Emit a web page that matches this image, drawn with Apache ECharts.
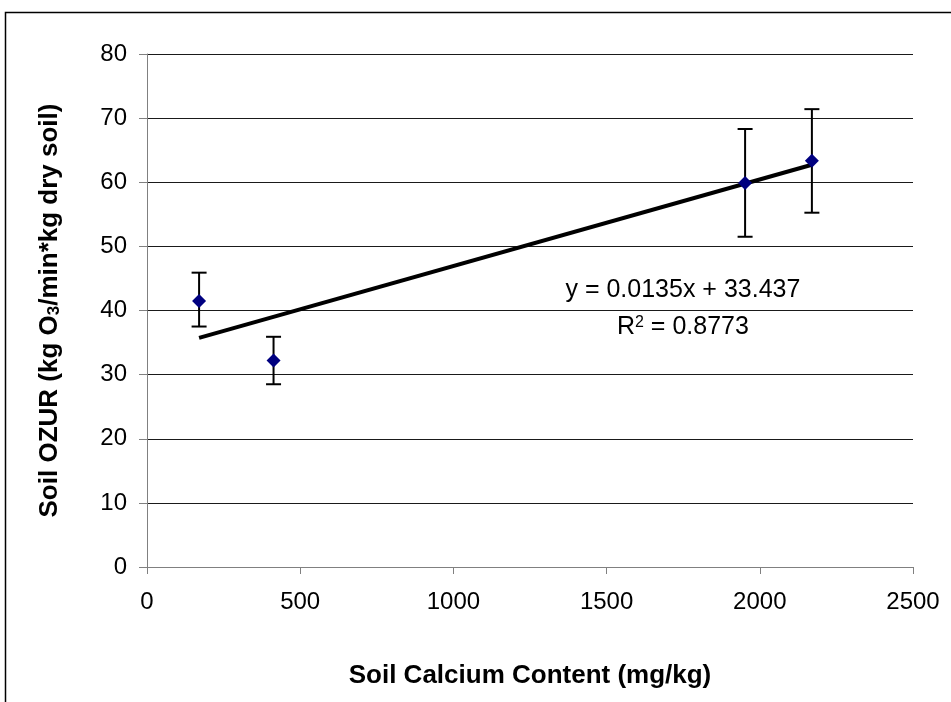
<!DOCTYPE html>
<html>
<head>
<meta charset="utf-8">
<script src="https://cdn.jsdelivr.net/npm/echarts@6/dist/echarts.min.js"></script>
<style>
html,body{margin:0;padding:0;background:#fff;}
#c{width:951px;height:702px;}
</style>
</head>
<body>
<div id="c"></div>
<script>
// Data
var calcium = [170, 413, 1952, 2170];
var ozur = [41.5, 32.2, 59.9, 63.35];
var errLow = [37.5, 28.5, 51.5, 55.25];
var errHigh = [45.9, 35.9, 68.3, 71.4];
var trendSlope = 0.0135;
var trendIntercept = 33.437;
var trendX = [170, 2170];
var xTicks = [0, 500, 1000, 1500, 2000, 2500];
var yTicks = [0, 10, 20, 30, 40, 50, 60, 70, 80];
var eqText = 'y = 0.0135x + 33.437';
var r2Value = '0.8773';

var points = calcium.map(function(x, i){ return [x, ozur[i]]; });
var errData = calcium.map(function(x, i){ return [x, errLow[i], errHigh[i]]; });
var trendData = trendX.map(function(x){ return [x, trendSlope * x + trendIntercept]; });

var chart = echarts.init(document.getElementById('c'), null, {renderer: 'canvas'});
var font = 'Liberation Sans, Arial, sans-serif';

chart.setOption({
  backgroundColor: '#fff',
  animation: false,
  grid: {left: 147, right: 38, top: 54, bottom: 135, containLabel: false},
  xAxis: {
    type: 'value', min: xTicks[0], max: xTicks[xTicks.length-1], interval: xTicks[1]-xTicks[0],
    name: 'Soil Calcium Content (mg/kg)',
    nameLocation: 'middle', nameGap: 96,
    nameTextStyle: {fontFamily: font, fontSize: 26, fontWeight: 'bold', color: '#000'},
    axisLine: {show: true, lineStyle: {color: '#808080', width: 1}},
    axisTick: {show: true, length: 7, inside: false, lineStyle: {color: '#808080'}},
    axisLabel: {fontFamily: font, fontSize: 24, color: '#000', margin: 23,
      formatter: function(v){ return String(v); }},
    splitLine: {show: false}
  },
  yAxis: {
    type: 'value', min: yTicks[0], max: yTicks[yTicks.length-1], interval: yTicks[1]-yTicks[0],
    name: 'Soil OZUR (kg O{sub|3}/min*kg dry soil)',
    nameLocation: 'middle', nameGap: 84, nameRotate: 90,
    nameTextStyle: {fontFamily: font, fontSize: 26, fontWeight: 'bold', color: '#000',
      rich: {sub: {fontFamily: font, fontSize: 17, fontWeight: 'bold', color: '#000', verticalAlign: 'bottom', padding: [10,0,0,0]}}},
    axisLine: {show: true, lineStyle: {color: '#808080', width: 1}},
    axisTick: {show: true, length: 8, lineStyle: {color: '#808080'}},
    axisLabel: {fontFamily: font, fontSize: 24, color: '#000', margin: 20,
      formatter: function(v){ return String(v); }},
    splitLine: {show: true, lineStyle: {color: '#1a1a1a', width: 1}}
  },
  graphic: [
    {type: 'rect', shape: {x: 5.5, y: 12.5, width: 1000, height: 800}, style: {fill: null, stroke: '#000', lineWidth: 1.5}, silent: true, z: -1}
  ],
  series: [
    {
      type: 'custom',
      renderItem: function(params, api){
        var x = api.value(0);
        var lo = api.coord([x, api.value(1)]);
        var hi = api.coord([x, api.value(2)]);
        var cap = 7.5;
        var st = {stroke: '#000', lineWidth: 2};
        return {type: 'group', children: [
          {type: 'line', shape: {x1: lo[0], y1: lo[1], x2: hi[0], y2: hi[1]}, style: st},
          {type: 'line', shape: {x1: lo[0]-cap, y1: lo[1], x2: lo[0]+cap, y2: lo[1]}, style: st},
          {type: 'line', shape: {x1: hi[0]-cap, y1: hi[1], x2: hi[0]+cap, y2: hi[1]}, style: st}
        ]};
      },
      data: errData, z: 2
    },
    {
      type: 'line', data: trendData, symbol: 'none',
      lineStyle: {color: '#000', width: 4}, z: 3,
      markPoint: {
        symbol: 'rect', symbolSize: 1, itemStyle: {color: 'rgba(0,0,0,0)'},
        label: {position: 'inside'},
        data: [
          {coord: [1749, 43.2], label: {show: true, position: 'inside', formatter: eqText, fontFamily: font, fontSize: 25, color: '#000'}},
          {coord: [1749, 37.35], label: {show: true, position: 'inside', formatter: 'R{sup|2} = ' + r2Value, fontFamily: font, fontSize: 25, color: '#000',
            rich: {sup: {fontSize: 16, fontFamily: font, color: '#000', verticalAlign: 'top', padding: [0,0,10,0]}}}}
        ]
      }
    },
    {
      type: 'scatter', data: points, symbol: 'diamond', symbolSize: [14, 14],
      itemStyle: {color: '#000080', opacity: 1}, z: 4
    }
  ]
});
</script>
</body>
</html>
